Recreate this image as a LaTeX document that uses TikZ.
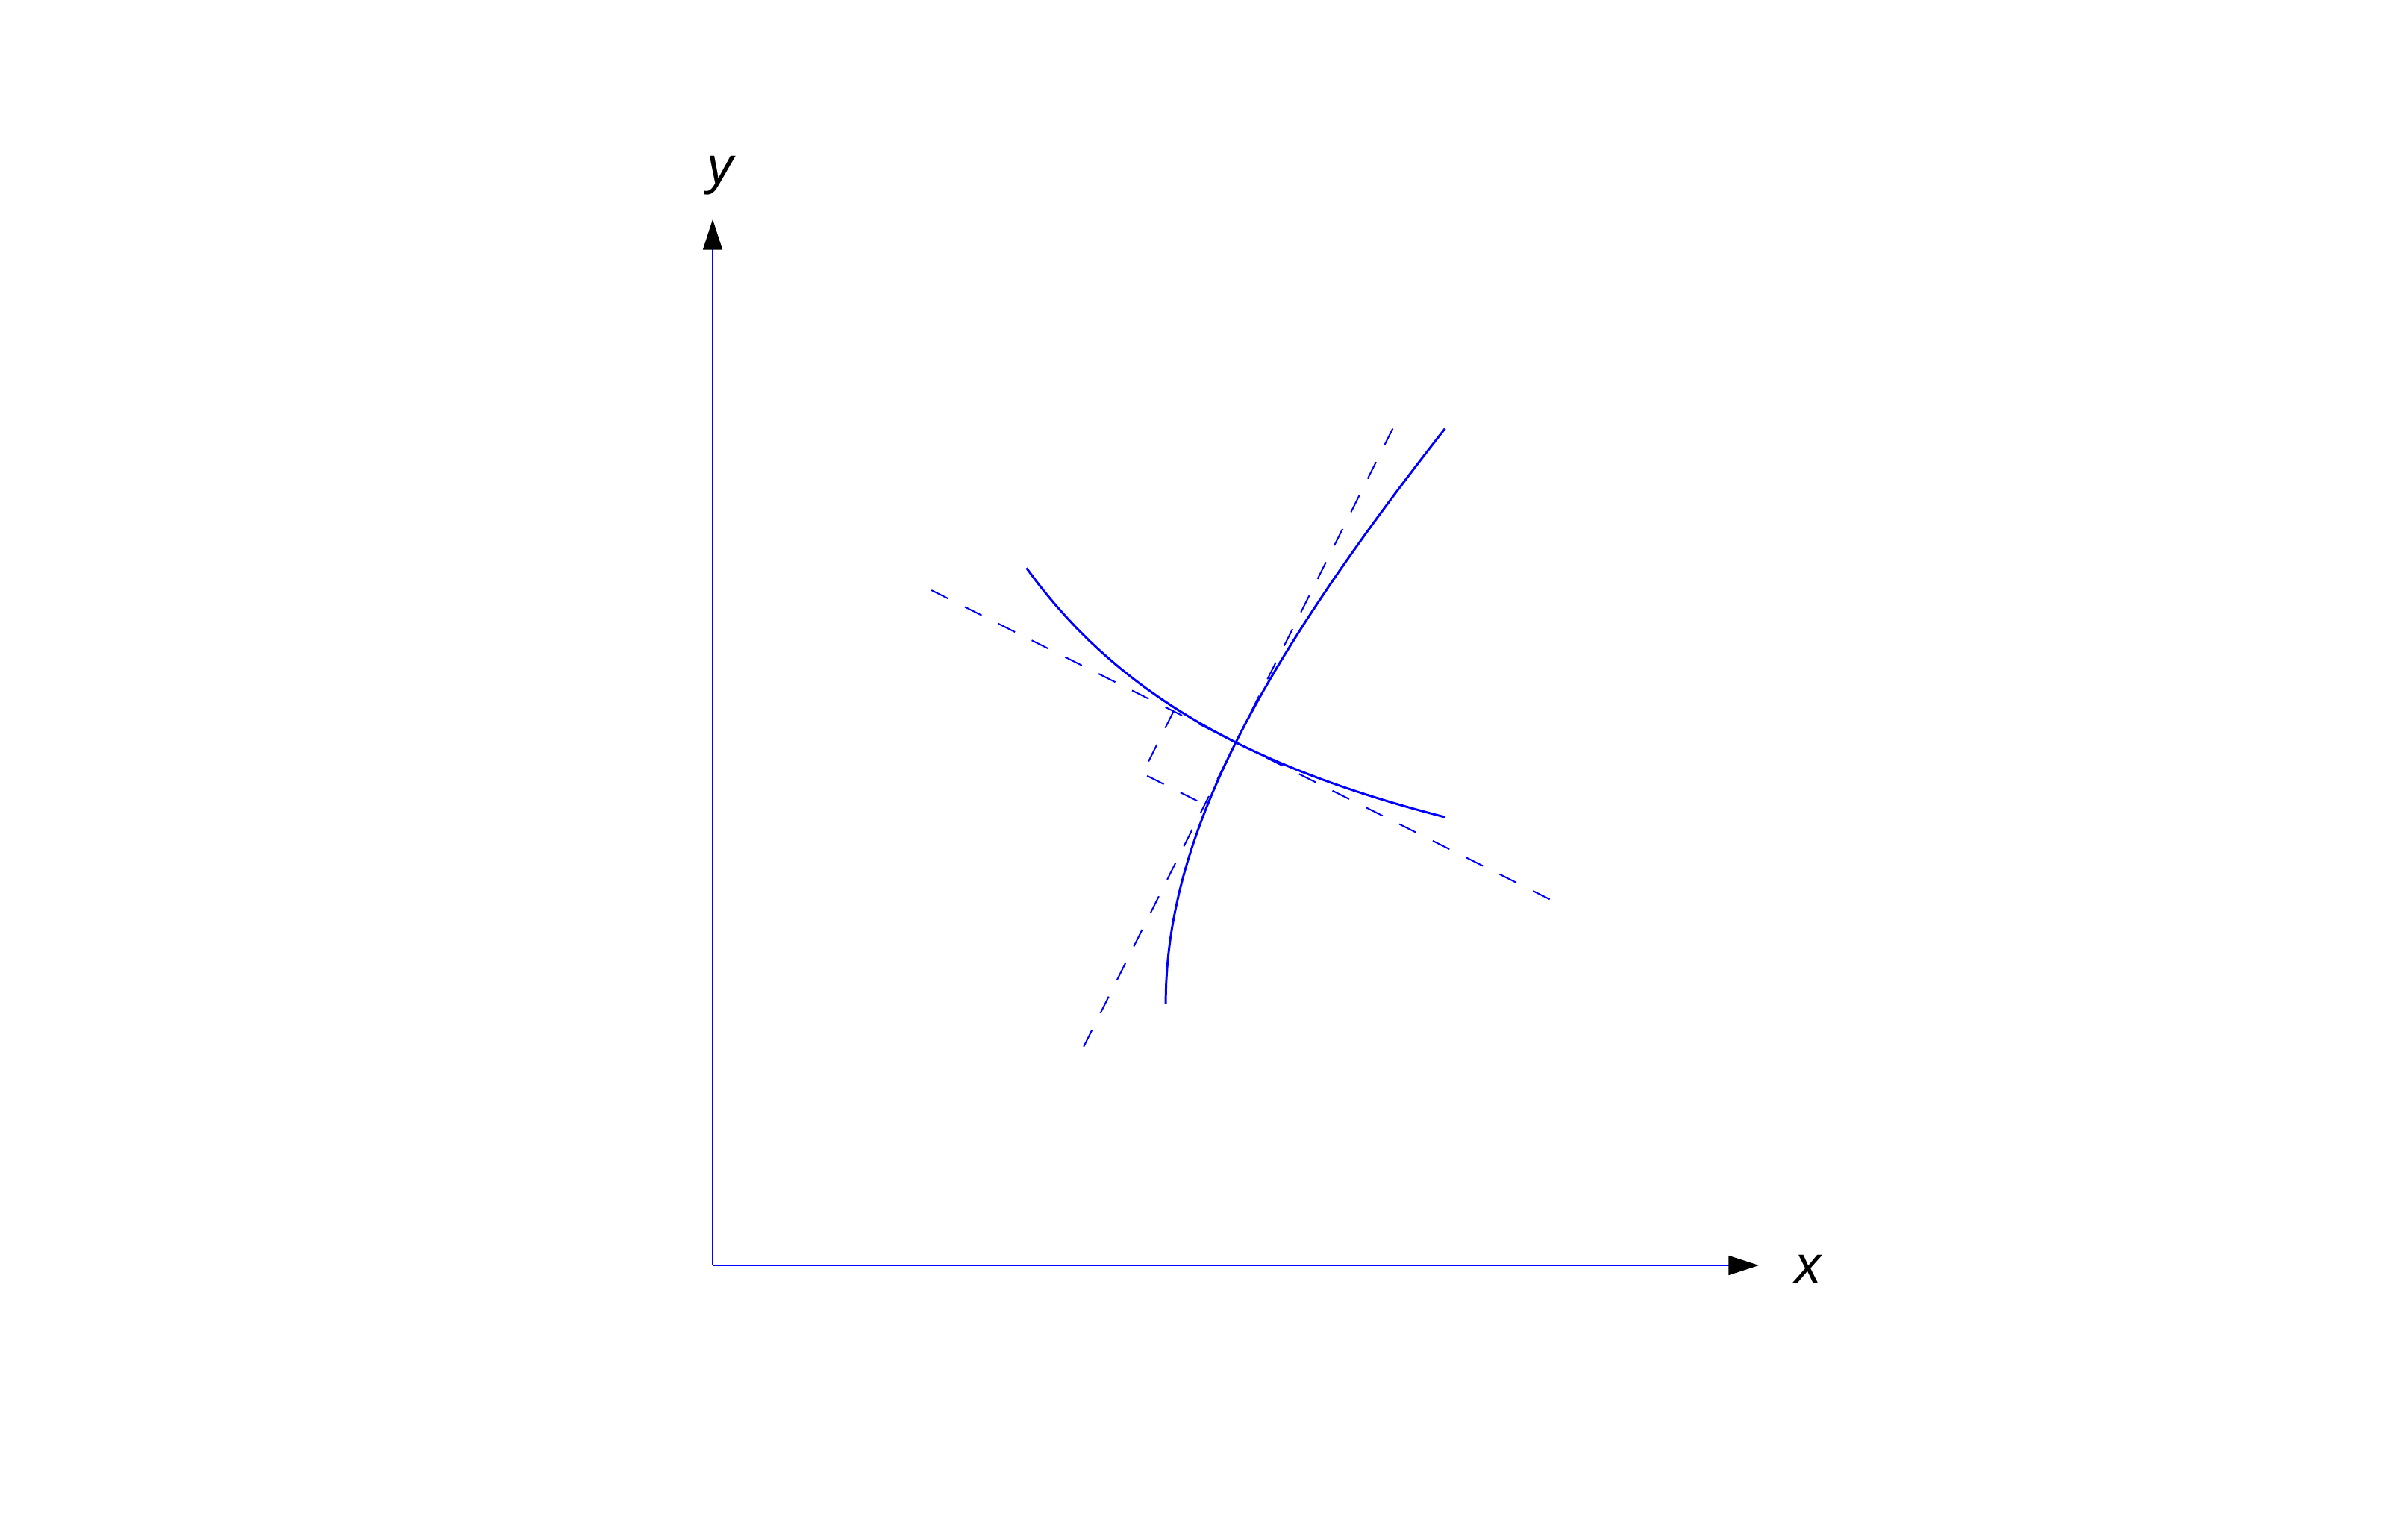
\documentclass[tikz,border=0pt]{standalone}
\usepackage{fontspec}
\setmainfont{Liberation Sans}
\usetikzlibrary{arrows.meta,calc}

\begin{document}
\begin{tikzpicture}[
  axis/.style={blue, line width=0.35pt, -{Triangle[length=0.29cm,width=0.185cm,black]}},
  curve/.style={blue, line width=0.6pt},
  tangent/.style={blue, line width=0.4pt, dash pattern=on 5.08pt off 5.08pt},
  lbl/.style={font=\fontsize{14.3}{17}\selectfont\itshape, inner sep=0pt, anchor=base}
]
  \useasboundingbox (-6.812,-2.618) rectangle (15.984,12.097);

  % height of the asymptote
  \def\yo{2.5}

  % Axes
  \coordinate (O) at (0,0);
  \coordinate (xend) at (10,0);
  \coordinate (yend) at (0,10);
  \draw[axis] (O) -- (xend);
  \draw[axis] (O) -- (yend);
  \node[lbl] (xlabel) at (10.47,-0.171) {x};
  \node[lbl] (ylabel) at (0.071,10.337) {y};

  % Two curves crossing at P
  \coordinate (P) at (5,5);
  \draw[curve] plot[domain=3:7, samples=90] (\x, {\yo + 12.5/\x});
  \draw[curve] plot[domain=0:5.5, samples=90] ({sqrt(18.75 + \x*\x)}, {\yo + \x});

  % Tangent lines at P
  \coordinate (t1a) at (8,3.5);
  \coordinate (t1b) at (2,6.5);
  \coordinate (t2a) at (6.5,8);
  \coordinate (t2b) at (3.5,2);
  \draw[tangent] (t1a) -- (t1b);
  \draw[tangent] (t2a) -- (t2b);

  % Right angle mark
  \coordinate (r1) at ($(P)!0.665cm!(t1b)$);
  \coordinate (r2) at ($(P)!0.665cm!(t2b)$);
  \coordinate (rc) at ($(r1)+(r2)-(P)$);
  \draw[tangent] (r1) -- (rc) -- (r2);

\end{tikzpicture}
\end{document}
